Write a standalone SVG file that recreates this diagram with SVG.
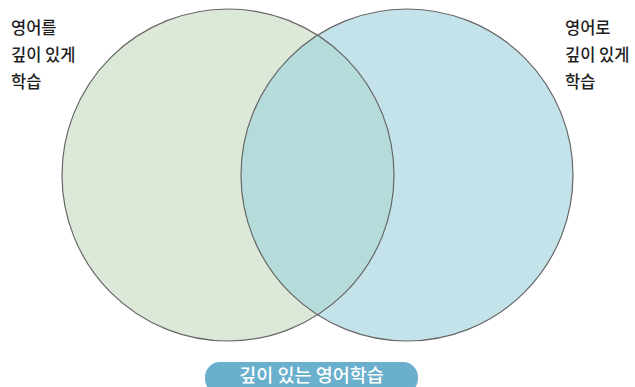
<svg xmlns="http://www.w3.org/2000/svg" width="635" height="387" viewBox="0 0 635 387">
<style>
.lbl{font-family:"Noto Sans CJK KR","Noto Sans",sans-serif;font-size:16.5px;font-weight:500;fill:#1e1e1e}
.circ{stroke:#666;stroke-width:1.2;fill:none}
.pilltxt{font-family:"Noto Sans CJK KR","Noto Sans",sans-serif;font-size:18.5px;font-weight:500;fill:#fff}
</style>
<rect width="635" height="387" fill="#fff"/>
<g id="set-left">
<circle cx="228" cy="175" r="166" fill="#dce9d8"/>
</g>
<g id="set-right">
<circle cx="407" cy="175" r="166" fill="#c4e2e9"/>
</g>
<g id="overlap">
<path d="M317.5 35.2 A166 166 0 0 1 317.5 314.8 A166 166 0 0 1 317.5 35.2 Z" fill="#b5dcdb"/>
</g>
<g id="outlines">
<circle class="circ" cx="228" cy="175" r="166"/>
<circle class="circ" cx="407" cy="175" r="166"/>
</g>
<g id="label-left">
<text class="lbl" x="11" y="34">영어를</text>
<text class="lbl" x="11" y="61">깊이 있게</text>
<text class="lbl" x="11" y="88">학습</text>
</g>
<g id="label-right">
<text class="lbl" x="565" y="34">영어로</text>
<text class="lbl" x="565" y="61">깊이 있게</text>
<text class="lbl" x="565" y="88">학습</text>
</g>
<g id="title">
<rect x="205" y="362" width="213" height="32" rx="15" fill="#6aafcb"/>
<text class="pilltxt" x="311.5" y="382" text-anchor="middle">깊이 있는 영어학습</text>
</g>
</svg>
